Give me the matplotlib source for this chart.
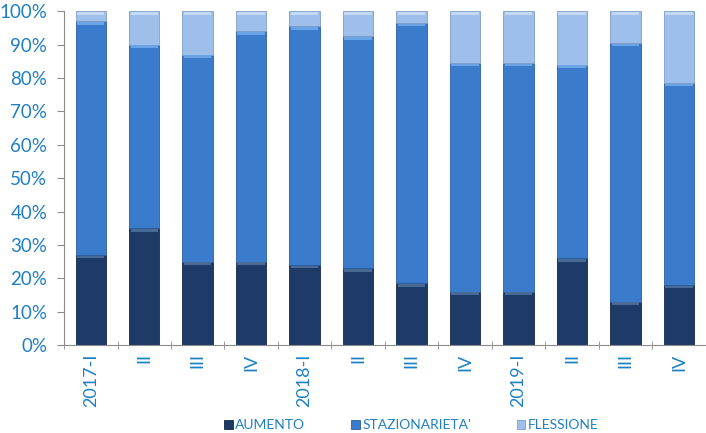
import numpy as np
import matplotlib.pyplot as plt

# Dati (quote percentuali)
categorie = ['2017-I', 'II', 'III', 'IV', '2018-I', 'II', 'III', 'IV', '2019-I', 'II', 'III', 'IV']
aumento = [27, 35, 25, 25, 24, 23, 18.5, 16, 16, 26, 13, 18]
stazionarieta = [70, 55, 62, 69, 71.5, 69.5, 78, 68.5, 68.5, 58, 77.5, 60.5]
flessione = [3, 10, 13, 6, 4.5, 7.5, 3.5, 15.5, 15.5, 16, 9.5, 21.5]

col_aum = '#1d3b66'
col_staz = '#3b7bcc'
col_fles = '#9dbfe9'
col_txt = '#1f7fc1'

plt.rcParams['font.family'] = ['Lato', 'DejaVu Sans']

fig = plt.figure(figsize=(7.06, 4.33), dpi=100)
ax = fig.add_axes([0.0907, 0.203, 0.909, 0.771])

x = np.arange(len(categorie))
w = 0.57
aum = np.array(aumento)
sta = np.array(stazionarieta)
fle = np.array(flessione)

ax.bar(x, aum, w, color=col_aum, edgecolor='#15294a', linewidth=0.6, label='AUMENTO')
ax.bar(x, sta, w, bottom=aum, color=col_staz, edgecolor='#2c5f9e', linewidth=0.6, label="STAZIONARIETA'")
ax.bar(x, fle, w, bottom=aum + sta, color=col_fles, edgecolor='#7f9fc8', linewidth=0.6, label='FLESSIONE')

# effetto rilievo sul bordo superiore di ogni segmento
for base, h, c in [(0, aum, '#4a6a96'), (aum, sta, '#6aa3e6'), (aum + sta, fle, '#c3d8f4')]:
    ax.bar(x, np.full(len(x), 0.8), w * 0.9, bottom=base + h - 1.0, color=c, linewidth=0)

ax.set_xlim(-0.5, len(categorie) - 0.5)
ax.set_ylim(0, 100)
ax.set_yticks(np.arange(0, 101, 10))
ax.set_yticklabels([f'{v}%' for v in range(0, 101, 10)])

ax.set_xticks(x)
ax.set_xticklabels(categorie, rotation=90)
ax.set_xticks(np.arange(-0.5, len(categorie), 1), minor=True)
ax.tick_params(axis='x', which='major', length=0, pad=6, labelsize=13, labelcolor=col_txt)
ax.tick_params(axis='x', which='minor', length=6, direction='inout', color='#8c8c8c')
ax.tick_params(axis='y', length=5, color='#8c8c8c', labelsize=13.5, labelcolor=col_txt, pad=7)

for s in ['top', 'right']:
    ax.spines[s].set_visible(False)
ax.spines['left'].set_color('#8c8c8c')
ax.spines['bottom'].set_color('#8c8c8c')

fig.legend(loc='lower center', bbox_to_anchor=(0.583, -0.025), ncol=3, frameon=False,
           handlelength=0.6, handleheight=0.6, handletextpad=0.2, columnspacing=3.3,
           fontsize=10, labelcolor=col_txt)

fig.savefig('out.png', dpi=100)
